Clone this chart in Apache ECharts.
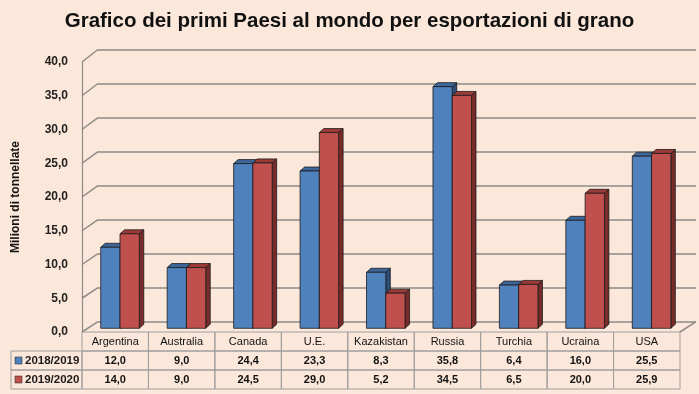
<!DOCTYPE html>
<html><head><meta charset="utf-8">
<script src="https://cdn.jsdelivr.net/npm/echarts@6/dist/echarts.min.js"></script>
<style>html,body{margin:0;padding:0;background:#fce8da;}#c{width:699px;height:394px;}</style>
</head><body><div id="c"></div>
<script>
const categories = ['Argentina','Australia','Canada','U.E.','Kazakistan','Russia','Turchia','Ucraina','USA'];
const seriesNames = ['2018/2019','2019/2020'];
const values2018 = [12.0, 9.0, 24.4, 23.3, 8.3, 35.8, 6.4, 16.0, 25.5];
const values2019 = [14.0, 9.0, 24.5, 29.0, 5.2, 34.5, 6.5, 20.0, 25.9];
const yTicks = [0, 5, 10, 15, 20, 25, 30, 35, 40];

const TFONT = "'Liberation Sans',Arial,sans-serif";
const fmt = v => v.toFixed(1).replace('.', ',');
const colors = [
  {front:'#4f81bd', top:'#3d679a', side:'#2c4e78'},
  {front:'#c0504d', top:'#9b3a37', side:'#772c2a'}
];
const GRIDC = '#8e8a87';
const TABLEC = '#9e9e9e';

function barRender(si) {
  return function(params, api) {
    const i = api.value(0), v = api.value(1);
    const base = api.coord([i, 0]);
    const top = api.coord([i, v]);
    const band = api.size([1, 0])[0];
    const w = band * 0.29, shift = band * 0.072, lift = 3.7, dx = 4.5, dy = -4;
    const x0 = si === 0 ? base[0] + shift - w : base[0] + shift;
    const x1 = x0 + w;
    const yb = base[1] - lift, yt = top[1] - lift;
    const c = colors[si];
    const st = {stroke:'#1c1c1c', lineWidth:0.8};
    return {type:'group', children:[
      {type:'polygon', shape:{points:[[x1,yb],[x1+dx,yb+dy],[x1+dx,yt+dy],[x1,yt]]}, style:Object.assign({fill:c.side}, st)},
      {type:'polygon', shape:{points:[[x0,yt],[x0+dx,yt+dy],[x1+dx,yt+dy],[x1,yt]]}, style:Object.assign({fill:c.top}, st)},
      {type:'rect', shape:{x:x0, y:yt, width:w, height:yb-yt}, style:Object.assign({fill:c.front}, st)}
    ]};
  };
}

function tableRender(params, api) {
  const i = api.value(0);
  const p = api.coord([i, 0]);
  const band = api.size([1, 0])[0];
  const xl = p[0] - band / 2;
  const y0 = p[1], rh = 19;
  const ln = {stroke:TABLEC, lineWidth:1};
  const vals = [categories[i], fmt(values2018[i]), fmt(values2019[i])];
  const children = [
    {type:'rect', shape:{x:xl, y:y0, width:band, height:rh}, style:Object.assign({fill:'none'}, ln)},
    {type:'rect', shape:{x:xl, y:y0+rh, width:band, height:rh}, style:Object.assign({fill:'none'}, ln)},
    {type:'rect', shape:{x:xl, y:y0+2*rh, width:band, height:rh}, style:Object.assign({fill:'none'}, ln)}
  ];
  vals.forEach((t, r) => {
    children.push({type:'text', style:{text:t, x:p[0], y:y0 + rh*r + rh/2 + 0.5, align:'center', verticalAlign:'middle',
      font:(r === 0 ? 'normal ' : 'bold ') + '11px ' + TFONT, fill:'#111'}});
  });
  return {type:'group', children};
}

const chart = echarts.init(document.getElementById('c'));
chart.setOption({
  backgroundColor:'#fce8da',
  animation:false,
  title:{text:'Grafico dei primi Paesi al mondo per esportazioni di grano', left:'center', top:6,
    textStyle:{fontFamily:TFONT, fontSize:20.5, fontWeight:'bold', color:'#111'}},
  grid:[
    {left:82, right:19, top:62, bottom:62},
    {left:98, right:3, top:49.5, bottom:72.3}
  ],
  xAxis:[
    {type:'category', gridIndex:0, data:categories, axisLine:{show:false}, axisTick:{show:false}, axisLabel:{show:false}},
    {type:'value', gridIndex:1, min:0, max:1, show:false}
  ],
  yAxis:[
    {type:'value', gridIndex:0, min:0, max:40, interval:5,
      name:'Milioni di tonnellate', nameLocation:'middle', nameGap:60, nameRotate:90,
      nameTextStyle:{fontFamily:TFONT, fontSize:12, fontWeight:'bold', color:'#111'},
      axisLine:{show:true, lineStyle:{color:GRIDC, width:1.2}}, axisTick:{show:false},
      axisLabel:{formatter:fmt, margin:14, fontFamily:TFONT, fontSize:12, fontWeight:'bold', color:'#222'},
      splitLine:{show:false}},
    {type:'value', gridIndex:1, min:0, max:40, interval:5,
      axisLine:{show:false}, axisTick:{show:false}, axisLabel:{show:false},
      splitLine:{show:true, lineStyle:{color:GRIDC, width:1.5}}}
  ],
  series:[
    {type:'custom', name:seriesNames[0], xAxisIndex:0, yAxisIndex:0, clip:false, z:5,
      data:values2018.map((v,i)=>[i,v]), renderItem:barRender(0)},
    {type:'custom', name:seriesNames[1], xAxisIndex:0, yAxisIndex:0, clip:false, z:6,
      data:values2019.map((v,i)=>[i,v]), renderItem:barRender(1)},
    {type:'custom', name:'table', xAxisIndex:0, yAxisIndex:0, clip:false, z:7,
      data:categories.map((c,i)=>[i,0]), renderItem:tableRender}
  ]
});

const gfx = [];
const cx0 = chart.convertToPixel({xAxisIndex:0}, 0);
const cx1 = chart.convertToPixel({xAxisIndex:0}, 1);
const band = cx1 - cx0;
const frontL = cx0 - band/2;
const frontR = chart.convertToPixel({xAxisIndex:0}, categories.length-1) + band/2;
const backL = chart.convertToPixel({xAxisIndex:1}, 0);
const backR = chart.convertToPixel({xAxisIndex:1}, 1);
yTicks.forEach(v => {
  const yf = chart.convertToPixel({yAxisIndex:0}, v);
  const yb = chart.convertToPixel({yAxisIndex:1}, v);
  gfx.push({type:'line', shape:{x1:frontL, y1:yf, x2:backL, y2:yb}, style:{stroke:GRIDC, lineWidth:1.5}, z:1});
});
const yf0 = chart.convertToPixel({yAxisIndex:0}, 0);
const yb0 = chart.convertToPixel({yAxisIndex:1}, 0);
gfx.push({type:'line', shape:{x1:frontR, y1:yf0, x2:backR, y2:yb0}, style:{stroke:GRIDC, lineWidth:1.5}, z:1});
const rh = 19, legL = 11;
seriesNames.forEach((n, r) => {
  const y = yf0 + rh*(r+1);
  gfx.push({type:'rect', shape:{x:legL, y:y, width:frontL-legL, height:rh}, style:{fill:'none', stroke:TABLEC, lineWidth:1}, z:8});
  gfx.push({type:'rect', shape:{x:legL+4, y:y+rh/2-3.5, width:7, height:7}, style:{fill:colors[r].front, stroke:'#333', lineWidth:0.6}, z:9});
  gfx.push({type:'text', style:{text:n, x:legL+14, y:y+rh/2+0.5, align:'left', verticalAlign:'middle',
    font:'bold 11.5px ' + TFONT, fill:'#1a1a1a'}, z:9});
});
chart.setOption({graphic:gfx});
</script>
</body></html>
